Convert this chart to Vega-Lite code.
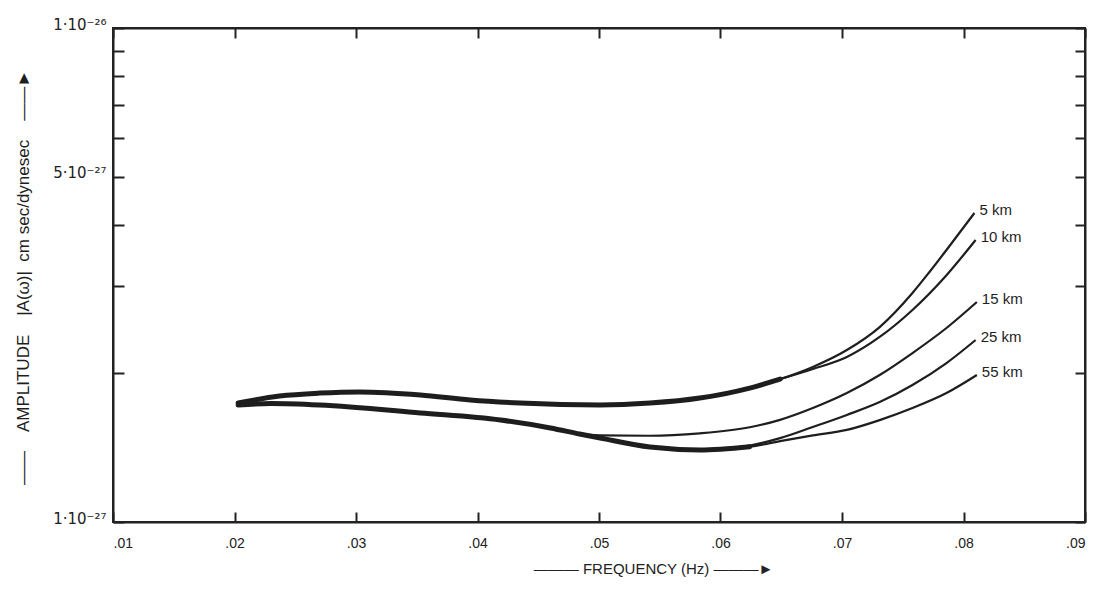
{
  "$schema": "https://vega.github.io/schema/vega-lite/v6.json",
  "width": 972,
  "height": 494,
  "autosize": "none",
  "padding": {"left": 113, "top": 28, "right": 26, "bottom": 79},
  "background": "white",
  "config": {
    "view": {"stroke": "#222", "strokeWidth": 2},
    "font": "Liberation Sans",
    "axis": {"grid": false, "domainColor": "#222", "domainWidth": 2, "tickColor": "#222", "tickWidth": 2, "labelColor": "#222", "titleColor": "#222", "labelFont": "Liberation Sans", "titleFont": "Liberation Sans", "titleFontWeight": "normal"}
  },
  "data": {"values": [
    {"depth": "5 km", "f": 0.0203, "amp": 1.741e-27},
    {"depth": "5 km", "f": 0.0237, "amp": 1.799e-27},
    {"depth": "5 km", "f": 0.0270, "amp": 1.824e-27},
    {"depth": "5 km", "f": 0.0303, "amp": 1.834e-27},
    {"depth": "5 km", "f": 0.0353, "amp": 1.808e-27},
    {"depth": "5 km", "f": 0.0394, "amp": 1.766e-27},
    {"depth": "5 km", "f": 0.0435, "amp": 1.741e-27},
    {"depth": "5 km", "f": 0.0501, "amp": 1.725e-27},
    {"depth": "5 km", "f": 0.0542, "amp": 1.741e-27},
    {"depth": "5 km", "f": 0.0583, "amp": 1.782e-27},
    {"depth": "5 km", "f": 0.0624, "amp": 1.867e-27},
    {"depth": "5 km", "f": 0.0649, "amp": 1.946e-27},
    {"depth": "5 km", "f": 0.0676, "amp": 2.060e-27},
    {"depth": "5 km", "f": 0.0704, "amp": 2.229e-27},
    {"depth": "5 km", "f": 0.0731, "amp": 2.481e-27},
    {"depth": "5 km", "f": 0.0758, "amp": 2.908e-27},
    {"depth": "5 km", "f": 0.0772, "amp": 3.207e-27},
    {"depth": "5 km", "f": 0.0786, "amp": 3.553e-27},
    {"depth": "5 km", "f": 0.0809, "amp": 4.222e-27},

    {"depth": "10 km", "f": 0.0203, "amp": 1.741e-27},
    {"depth": "10 km", "f": 0.0237, "amp": 1.799e-27},
    {"depth": "10 km", "f": 0.0270, "amp": 1.824e-27},
    {"depth": "10 km", "f": 0.0303, "amp": 1.834e-27},
    {"depth": "10 km", "f": 0.0353, "amp": 1.808e-27},
    {"depth": "10 km", "f": 0.0394, "amp": 1.766e-27},
    {"depth": "10 km", "f": 0.0435, "amp": 1.741e-27},
    {"depth": "10 km", "f": 0.0501, "amp": 1.725e-27},
    {"depth": "10 km", "f": 0.0542, "amp": 1.741e-27},
    {"depth": "10 km", "f": 0.0583, "amp": 1.782e-27},
    {"depth": "10 km", "f": 0.0624, "amp": 1.867e-27},
    {"depth": "10 km", "f": 0.0649, "amp": 1.946e-27},
    {"depth": "10 km", "f": 0.0676, "amp": 2.040e-27},
    {"depth": "10 km", "f": 0.0704, "amp": 2.158e-27},
    {"depth": "10 km", "f": 0.0731, "amp": 2.369e-27},
    {"depth": "10 km", "f": 0.0758, "amp": 2.687e-27},
    {"depth": "10 km", "f": 0.0786, "amp": 3.160e-27},
    {"depth": "10 km", "f": 0.0810, "amp": 3.723e-27},

    {"depth": "15 km", "f": 0.0203, "amp": 1.725e-27},
    {"depth": "15 km", "f": 0.0230, "amp": 1.737e-27},
    {"depth": "15 km", "f": 0.0270, "amp": 1.725e-27},
    {"depth": "15 km", "f": 0.0353, "amp": 1.662e-27},
    {"depth": "15 km", "f": 0.0419, "amp": 1.608e-27},
    {"depth": "15 km", "f": 0.0460, "amp": 1.550e-27},
    {"depth": "15 km", "f": 0.0484, "amp": 1.507e-27},
    {"depth": "15 km", "f": 0.0501, "amp": 1.498e-27},
    {"depth": "15 km", "f": 0.0542, "amp": 1.495e-27},
    {"depth": "15 km", "f": 0.0583, "amp": 1.512e-27},
    {"depth": "15 km", "f": 0.0624, "amp": 1.555e-27},
    {"depth": "15 km", "f": 0.0649, "amp": 1.610e-27},
    {"depth": "15 km", "f": 0.0676, "amp": 1.701e-27},
    {"depth": "15 km", "f": 0.0704, "amp": 1.824e-27},
    {"depth": "15 km", "f": 0.0731, "amp": 1.984e-27},
    {"depth": "15 km", "f": 0.0758, "amp": 2.198e-27},
    {"depth": "15 km", "f": 0.0786, "amp": 2.470e-27},
    {"depth": "15 km", "f": 0.0811, "amp": 2.788e-27},

    {"depth": "25 km", "f": 0.0203, "amp": 1.725e-27},
    {"depth": "25 km", "f": 0.0230, "amp": 1.737e-27},
    {"depth": "25 km", "f": 0.0270, "amp": 1.725e-27},
    {"depth": "25 km", "f": 0.0353, "amp": 1.662e-27},
    {"depth": "25 km", "f": 0.0419, "amp": 1.608e-27},
    {"depth": "25 km", "f": 0.0460, "amp": 1.550e-27},
    {"depth": "25 km", "f": 0.0484, "amp": 1.507e-27},
    {"depth": "25 km", "f": 0.0501, "amp": 1.479e-27},
    {"depth": "25 km", "f": 0.0542, "amp": 1.418e-27},
    {"depth": "25 km", "f": 0.0583, "amp": 1.399e-27},
    {"depth": "25 km", "f": 0.0624, "amp": 1.428e-27},
    {"depth": "25 km", "f": 0.0649, "amp": 1.478e-27},
    {"depth": "25 km", "f": 0.0676, "amp": 1.557e-27},
    {"depth": "25 km", "f": 0.0704, "amp": 1.647e-27},
    {"depth": "25 km", "f": 0.0731, "amp": 1.749e-27},
    {"depth": "25 km", "f": 0.0758, "amp": 1.894e-27},
    {"depth": "25 km", "f": 0.0786, "amp": 2.098e-27},
    {"depth": "25 km", "f": 0.0810, "amp": 2.336e-27},

    {"depth": "55 km", "f": 0.0203, "amp": 1.725e-27},
    {"depth": "55 km", "f": 0.0230, "amp": 1.737e-27},
    {"depth": "55 km", "f": 0.0270, "amp": 1.725e-27},
    {"depth": "55 km", "f": 0.0353, "amp": 1.662e-27},
    {"depth": "55 km", "f": 0.0419, "amp": 1.608e-27},
    {"depth": "55 km", "f": 0.0460, "amp": 1.550e-27},
    {"depth": "55 km", "f": 0.0484, "amp": 1.507e-27},
    {"depth": "55 km", "f": 0.0501, "amp": 1.479e-27},
    {"depth": "55 km", "f": 0.0542, "amp": 1.418e-27},
    {"depth": "55 km", "f": 0.0583, "amp": 1.399e-27},
    {"depth": "55 km", "f": 0.0624, "amp": 1.420e-27},
    {"depth": "55 km", "f": 0.0649, "amp": 1.458e-27},
    {"depth": "55 km", "f": 0.0676, "amp": 1.497e-27},
    {"depth": "55 km", "f": 0.0704, "amp": 1.536e-27},
    {"depth": "55 km", "f": 0.0731, "amp": 1.608e-27},
    {"depth": "55 km", "f": 0.0758, "amp": 1.701e-27},
    {"depth": "55 km", "f": 0.0786, "amp": 1.824e-27},
    {"depth": "55 km", "f": 0.0811, "amp": 1.984e-27}
  ]},
  "layer": [
    {
      "transform": [{"filter": "(datum.depth == '5 km' && datum.f <= 0.066) || (datum.depth == '55 km' && datum.f <= 0.0625)"}],
      "mark": {"type": "line", "interpolate": "monotone", "color": "#1e1e1e", "strokeWidth": 5, "strokeCap": "round"},
      "encoding": {
        "x": {"field": "f", "type": "quantitative", "scale": {"domain": [0.01, 0.09], "nice": false, "zero": false}, "axis": null},
        "y": {"field": "amp", "type": "quantitative", "scale": {"type": "log", "domain": [1e-27, 1e-26], "nice": false}, "axis": null},
        "detail": {"field": "depth"}
      }
    },
    {
      "mark": {"type": "line", "interpolate": "monotone", "color": "#1e1e1e", "strokeWidth": 2.2},
      "encoding": {
        "x": {
          "field": "f", "type": "quantitative",
          "scale": {"domain": [0.01, 0.09], "nice": false, "zero": false},
          "axis": {
            "values": [0.01, 0.02, 0.03, 0.04, 0.05, 0.06, 0.07, 0.08, 0.09],
            "labelExpr": "'.0' + round(datum.value * 100)",
            "tickSize": -10, "labelPadding": 24, "labelFontSize": 14,
            "title": "——— FREQUENCY (Hz) ———►",
            "titleFontSize": 15, "titleX": 540, "titleY": 46, "titleBaseline": "middle", "titleAlign": "center"
          }
        },
        "y": {
          "field": "amp", "type": "quantitative",
          "scale": {"type": "log", "domain": [1e-27, 1e-26], "nice": false},
          "axis": {
            "values": [1e-27, 2e-27, 3e-27, 4e-27, 5e-27, 6e-27, 7e-27, 8e-27, 9e-27, 1e-26],
            "labelExpr": "datum.value == 1e-27 ? '1·10⁻²⁷' : datum.value == 5e-27 ? '5·10⁻²⁷' : datum.value == 1e-26 ? '1·10⁻²⁶' : ''",
            "tickSize": -11, "labelPadding": 18, "labelFontSize": 15, "labelFont": "DejaVu Sans", "labelBaseline": "bottom", "labelOffset": 4,
            "title": "——\u00a0\u00a0\u00a0\u00a0AMPLITUDE\u00a0\u00a0\u00a0\u00a0|A(ω)|\u00a0\u00a0cm\u00a0sec/dynesec\u00a0\u00a0\u00a0\u00a0——►",
            "titleFontSize": 17, "titleColor": "#1e1e1e", "titleX": -90, "titleY": 249, "titleAngle": -90, "titleBaseline": "middle", "titleAlign": "center", "titleLimit": 1000
          }
        },
        "detail": {"field": "depth"}
      }
    },
    {
      "transform": [{"filter": "datum.f >= 0.0805"}],
      "mark": {"type": "text", "align": "left", "baseline": "middle", "dx": 5, "dy": -3, "fontSize": 15, "color": "#1e1e1e", "font": "Liberation Sans"},
      "encoding": {
        "x": {"field": "f", "type": "quantitative", "scale": {"domain": [0.01, 0.09], "nice": false, "zero": false}, "axis": null},
        "y": {"field": "amp", "type": "quantitative", "scale": {"type": "log", "domain": [1e-27, 1e-26], "nice": false}, "axis": null},
        "text": {"field": "depth"}
      }
    },
    {
      "mark": {"type": "point", "opacity": 0},
      "encoding": {
        "x": {"field": "f", "type": "quantitative", "scale": {"domain": [0.01, 0.09], "nice": false, "zero": false},
          "axis": {"orient": "top", "values": [0.01, 0.02, 0.03, 0.04, 0.05, 0.06, 0.07, 0.08, 0.09], "labels": false, "tickSize": -10, "title": null}},
        "y": {"field": "amp", "type": "quantitative", "scale": {"type": "log", "domain": [1e-27, 1e-26], "nice": false},
          "axis": {"orient": "right", "values": [1e-27, 2e-27, 3e-27, 4e-27, 5e-27, 6e-27, 7e-27, 8e-27, 9e-27, 1e-26], "labels": false, "tickSize": -10, "title": null}}
      }
    }
  ],
  "resolve": {"scale": {"x": "independent", "y": "independent"}, "axis": {"x": "independent", "y": "independent"}}
}
